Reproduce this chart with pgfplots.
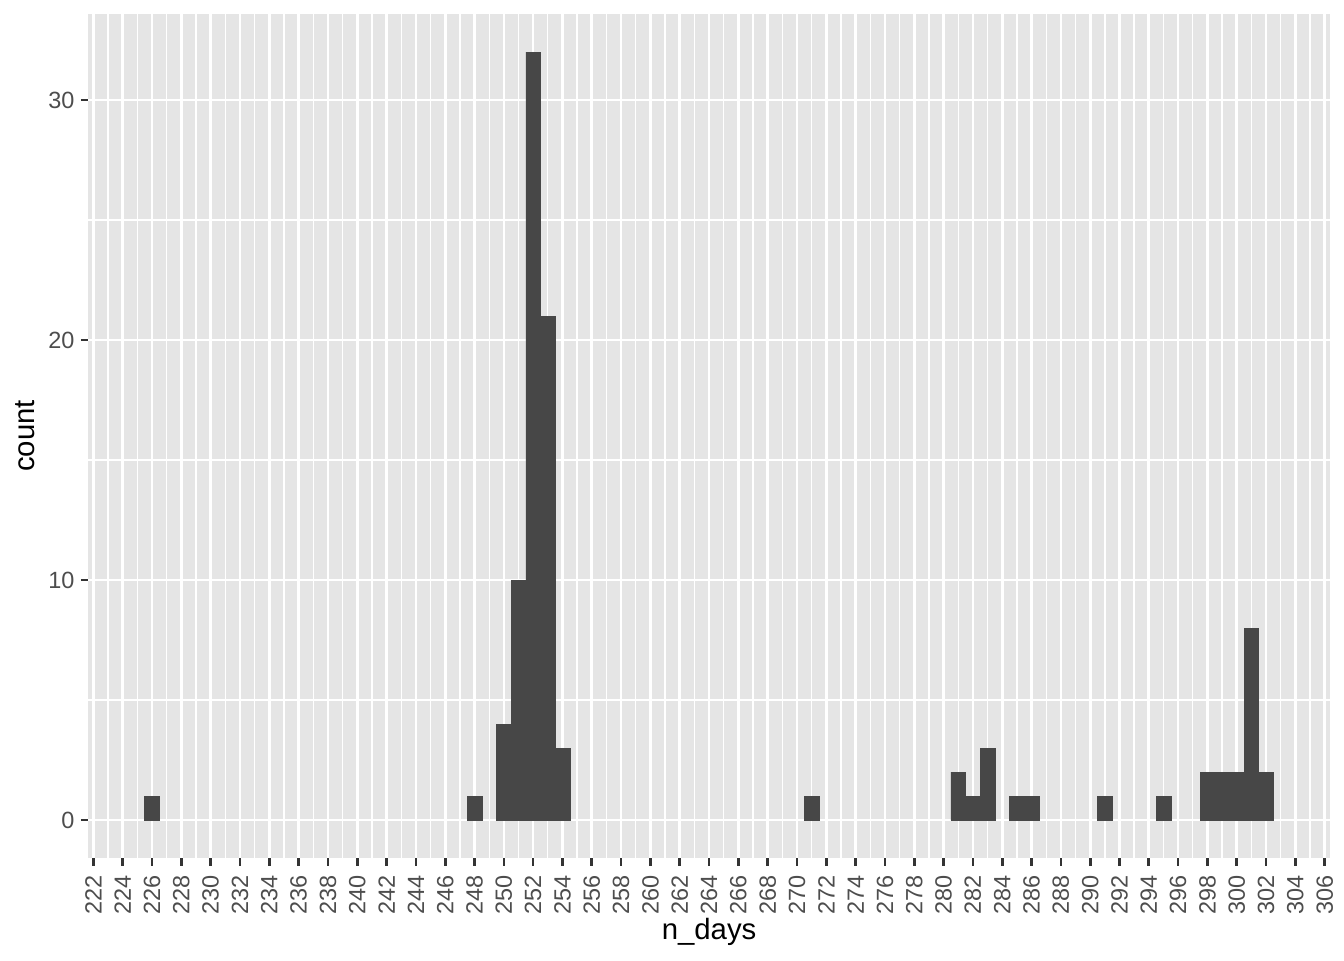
\documentclass[border=0pt]{standalone}
\usepackage{fontspec}
\setmainfont{Liberation Sans}
\usepackage{pgfplots}
\usepackage{pgfplotstable}
\pgfplotsset{compat=1.18}
\definecolor{panelgrey}{HTML}{E5E5E5}
\definecolor{barfill}{HTML}{474747}
\definecolor{ticktext}{HTML}{4D4D4D}
\definecolor{tickmark}{HTML}{333333}

% counts per day (binwidth 1)
\pgfplotstableread{
n count
226 1
248 1
250 4
251 10
252 32
253 21
254 3
271 1
281 2
282 1
283 3
285 1
286 1
291 1
295 1
298 2
299 2
300 2
301 8
302 2
}\histdata

\begin{document}
\begin{tikzpicture}
\useasboundingbox (0,0) rectangle (504pt,360pt);
\begin{axis}[
    at={(33.1pt,38.1pt)}, anchor=south west,
    scale only axis,
    width=465.6pt, height=316.8pt,
    xmin=221.65, xmax=306.35,
    ymin=-1.6, ymax=33.6,
    ybar, bar width=1, bar shift=0pt,
    axis background/.style={fill=panelgrey},
    axis line style={draw=none},
    xtick={222,224,...,306},
    ytick={0,10,20,30},
    minor x tick num=1,
    minor y tick num=1,
    grid=both,
    major grid style={white,line width=1.0pt},
    minor grid style={white,line width=0.5pt},
    tick align=outside,
    xtick pos=bottom, ytick pos=left,
    major tick length=2.75pt,
    minor tick length=0pt,
    major tick style={tickmark,line width=1.0pt},
    /pgf/number format/assume math mode=true,
    /pgf/number format/set thousands separator={},
    tick label style={font=\fontsize{8.8}{10}\selectfont, text=ticktext},
    x tick label style={rotate=90, anchor=east},
    y tick label style={anchor=east, xshift=1.1pt},
    xlabel={n\_days},
    ylabel={count},
    label style={font=\fontsize{11}{13}\selectfont},
    xlabel style={at={(axis description cs:0.5,-0.0871)}, anchor=center},
    ylabel style={at={(axis description cs:-0.0509,0.5)}, anchor=center, rotate=0},
]
\addplot[fill=barfill, draw=barfill, line width=0.2pt] table[x=n, y=count] {\histdata};
\end{axis}
\end{tikzpicture}
\end{document}
